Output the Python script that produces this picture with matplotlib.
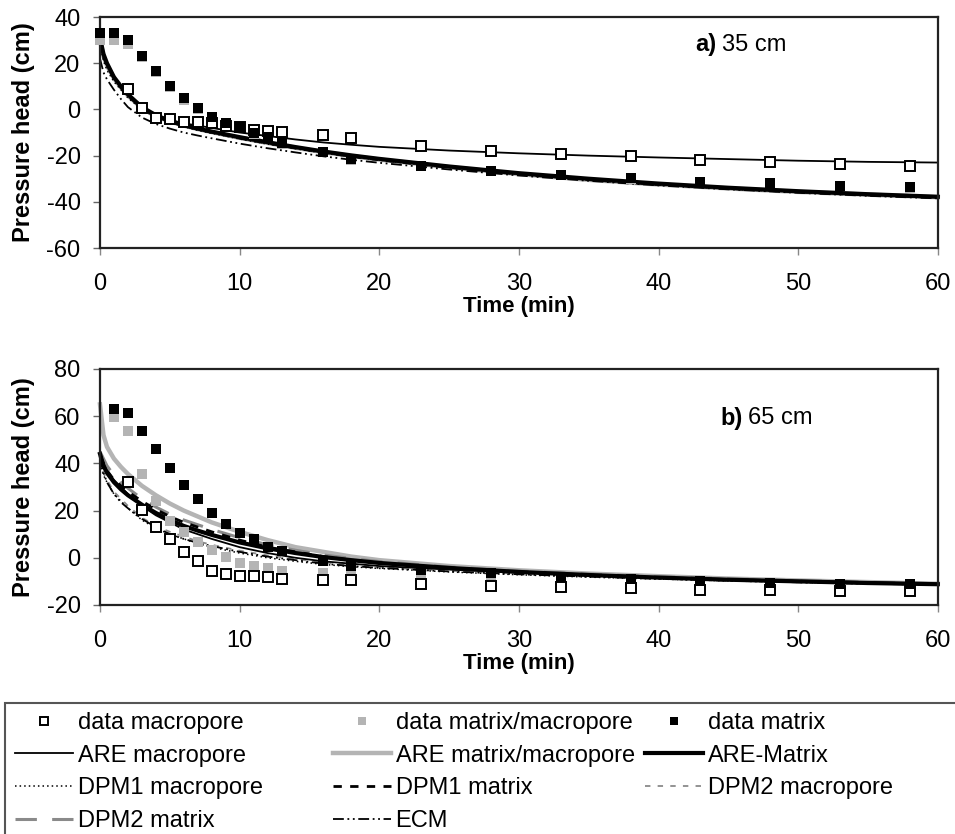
import numpy as np
import matplotlib
matplotlib.use("Agg")
import matplotlib.pyplot as plt
from matplotlib.lines import Line2D
from matplotlib.patches import Rectangle

plt.rcParams['font.family'] = ['Liberation Sans', 'DejaVu Sans']
plt.rcParams['axes.unicode_minus'] = False

# ---------------- data ----------------
t_line = [0, 0.25, 0.5, 1, 1.5, 2, 3, 4, 5, 6, 7, 8, 10, 12, 14, 16, 18, 20,
          25, 30, 35, 40, 45, 50, 55, 60]

t_data = [0, 1, 2, 3, 4, 5, 6, 7, 8, 9, 10, 11, 12, 13, 16, 18, 23, 28, 33, 38, 43, 48, 53, 58]
t_macro = [2, 3, 4, 5, 6, 7, 8, 9, 10, 11, 12, 13, 16, 18, 23, 28, 33, 38, 43, 48, 53, 58]
t_data_b = [1, 2, 3, 4, 5, 6, 7, 8, 9, 10, 11, 12, 13, 16, 18, 23, 28, 33, 38, 43, 48, 53, 58]

# panel a (35 cm) observations
a_macro = [8.7, 0.7, -3.9, -4.2, -5.3, -5.3, -6.0, -7.0, -7.5, -9.0, -9.2, -9.9,
           -11.1, -12.2, -15.7, -17.9, -19.2, -20.3, -22.0, -22.6, -23.8, -24.4]
a_mixed = [30, 30, 28.5, 22.5, 16, 9.5, 4.2, 0, -3.5, -6.3, -7.8, -10.5, -12, -15,
           -18.6, -21.8, -24.6, -26.8, -28.6, -30, -31.5, -32, -33.2, -34]
a_matrix = [33, 32.9, 30, 23.3, 16.6, 10.1, 4.8, 0.5, -3.2, -6, -7.5, -10.3, -11.8, -14.7,
            -18.3, -21.6, -24.4, -26.5, -28.3, -29.8, -31.3, -31.7, -33, -33.7]

# panel a (35 cm) simulations
a_are_macro = [30, 23, 19, 14, 10, 6.5, 1, -2.5, -4.5, -6, -7, -8, -10, -11.5, -13, -14.3,
               -15.3, -16.2, -17.8, -19, -20, -20.8, -21.5, -22.2, -22.7, -23]
a_are_mixed = [30, 23, 19, 13.5, 9.5, 6, 0.5, -3, -5.2, -7, -8.5, -9.8, -12.3, -14.5, -16.6,
               -18.5, -20.2, -21.7, -25, -28, -30.5, -32.5, -34.2, -35.7, -36.9, -38]
a_are_matrix = [31, 24, 20, 14, 10, 6.5, 1, -2.5, -5, -6.8, -8.3, -9.6, -12, -14.2, -16.3,
                -18.2, -19.9, -21.4, -24.7, -27.6, -30, -32.1, -33.9, -35.4, -36.7, -37.8]
a_dpm1_macro = [28, 21, 17, 12, 8.5, 5, 0, -3.5, -5.8, -7.5, -9, -10.3, -12.8, -15, -17,
                -18.9, -20.5, -22, -25.2, -28.1, -30.6, -32.7, -34.4, -35.9, -37.1, -38.2]
a_dpm1_matrix = [30, 23, 19, 13.5, 9.5, 6, 0.5, -3, -5.3, -7.1, -8.6, -9.9, -12.4, -14.6,
                 -16.7, -18.6, -20.3, -21.8, -25.1, -28, -30.4, -32.5, -34.2, -35.7, -37, -38.1]
a_dpm2_macro = [29, 22, 18, 13, 9, 5.5, 0.3, -3.2, -5.5, -7.3, -8.8, -10.1, -12.6, -14.8,
                -16.9, -18.8, -20.4, -21.9, -25.2, -28.1, -30.6, -32.7, -34.4, -35.9, -37.2, -38.3]
a_dpm2_matrix = [30, 23, 19, 13.5, 9.5, 6, 0.5, -3, -5.3, -7.1, -8.6, -9.9, -12.4, -14.6,
                 -16.7, -18.6, -20.3, -21.8, -25.1, -28, -30.4, -32.5, -34.2, -35.7, -37, -38]
a_ecm = [22, 16, 13, 8.5, 4.5, 1, -3.5, -6.3, -8.3, -10, -11.3, -12.5, -14.8, -16.8, -18.6,
         -20.3, -21.8, -23.1, -26, -28.6, -30.9, -32.9, -34.6, -36.1, -37.4, -38.5]

# panel b (65 cm) observations
b_macro = [32, 20.3, 12.9, 7.8, 2.6, -1.2, -5.5, -6.9, -7.6, -7.6, -8.3, -9,
           -9.4, -9.4, -11.1, -11.9, -12.2, -13, -13.6, -13.6, -14, -14]
b_mixed = [59.5, 53.9, 35.5, 24.2, 15.6, 10.8, 6.8, 3.3, 0.2, -2.1, -3.4, -4.5, -5.5,
           -6.6, -6.9, -8.5, -9.5, -10.5, -11.5, -12, -12.5, -13, -13]
b_matrix = [62.9, 61.2, 53.7, 46, 38.2, 30.8, 24.9, 19.1, 14.3, 10.7, 7.8, 4.4, 2.9,
            -1.2, -3.5, -5.2, -6.6, -8, -9.1, -9.8, -10.8, -11.2, -11.2]

# panel b (65 cm) simulations
b_are_macro = [45, 40, 37, 33, 30, 27, 22, 18, 15, 12, 10, 8, 4.5, 2, 0, -1.5, -2.5, -3.5,
               -5, -6.3, -7.3, -8.2, -9, -9.7, -10.3, -11]
b_are_mixed = [65, 52, 47, 42, 38.5, 35.5, 30.5, 26.5, 23, 20, 17.5, 15, 11, 7.5, 4.5, 2.5,
               0.5, -1, -3.5, -5.3, -6.7, -7.8, -8.8, -9.6, -10.3, -11]
b_are_matrix = [44, 39, 36, 32, 29, 26.5, 22.5, 19, 16, 13.5, 11.5, 9.7, 6.5, 4, 2, 0.3, -1,
                -2.2, -4.3, -6, -7.3, -8.4, -9.3, -10, -10.7, -11.2]
b_dpm1_macro = [40, 35, 32, 27, 24, 21, 16, 12.5, 10, 8, 6, 4.5, 2, 0, -1.5, -2.8, -3.8,
                -4.5, -6, -7.2, -8.2, -9, -9.8, -10.4, -11, -11.5]
b_dpm1_matrix = [43, 40, 37, 33, 30.5, 28, 24, 20.5, 17.5, 15, 13, 11, 7.5, 4.5, 2.5, 0.5,
                 -1, -2.2, -4.3, -6, -7.3, -8.4, -9.3, -10, -10.7, -11.3]
b_dpm2_macro = [42, 36, 33, 28, 25, 22, 17, 13.5, 11, 9, 7, 5.5, 3, 1, -0.5, -2, -3, -4,
                -5.5, -6.8, -7.8, -8.7, -9.5, -10.2, -10.8, -11.3]
b_dpm2_matrix = [45, 42, 39, 35, 32, 29.5, 25, 21.5, 18.5, 16, 14, 12, 8.5, 5.5, 3.2, 1.2,
                 -0.3, -1.6, -3.9, -5.6, -6.9, -8, -8.9, -9.7, -10.4, -11]
b_ecm = [42, 36, 32, 27, 23.5, 21, 16.5, 13, 10, 8, 6.3, 5, 2.5, 0.5, -1, -2.5, -3.5, -4.3,
         -5.8, -7, -8, -8.9, -9.7, -10.4, -11, -11.5]

x_ticks = [0, 10, 20, 30, 40, 50, 60]
a_yticks = [-60, -40, -20, 0, 20, 40]
b_yticks = [-20, 0, 20, 40, 60, 80]

labels = ["data macropore", "data matrix/macropore", "data matrix",
          "ARE macropore", "ARE matrix/macropore", "ARE-Matrix",
          "DPM1 macropore", "DPM1 matrix", "DPM2 macropore",
          "DPM2 matrix", "ECM"]

# ---------------- styles ----------------
GRAY = '#b4b4b4'
line_styles = [
    dict(color='black', lw=1.3, ls='-'),                       # ARE macropore
    dict(color=GRAY, lw=3.2, ls='-'),                          # ARE matrix/macropore
    dict(color='black', lw=3.0, ls='-'),                       # ARE-Matrix
    dict(color='black', lw=1.1, ls=(0, (1, 2))),               # DPM1 macropore
    dict(color='black', lw=2.0, ls=(0, (3, 3))),               # DPM1 matrix
    dict(color='#8a8a8a', lw=1.3, ls=(0, (3, 4))),             # DPM2 macropore
    dict(color='#8a8a8a', lw=2.2, ls=(0, (7, 5))),             # DPM2 matrix
    dict(color='black', lw=1.3, ls=(0, (6, 2, 1, 2, 1, 2))),   # ECM
]
mk_macro = dict(marker='s', ms=7, mfc='white', mec='black', mew=1.4, ls='none')
mk_mixed = dict(marker='s', ms=7.5, mfc=GRAY, mec=GRAY, mew=0, ls='none')
mk_matrix = dict(marker='s', ms=7.5, mfc='black', mec='black', mew=0, ls='none')

fig = plt.figure(figsize=(9.55, 8.34), dpi=100)
axa = fig.add_axes([0.1047, 0.7026, 0.8773, 0.2770])
axb = fig.add_axes([0.1047, 0.2746, 0.8773, 0.2830])

panels = [
    (axa, [a_are_macro, a_are_mixed, a_are_matrix, a_dpm1_macro, a_dpm1_matrix,
           a_dpm2_macro, a_dpm2_matrix, a_ecm],
     (t_macro, a_macro), (t_data, a_mixed), (t_data, a_matrix),
     (-60, 40), a_yticks, 'a)', '35 cm', (0.711, 0.743, 0.879)),
    (axb, [b_are_macro, b_are_mixed, b_are_matrix, b_dpm1_macro, b_dpm1_matrix,
           b_dpm2_macro, b_dpm2_matrix, b_ecm],
     (t_macro, b_macro), (t_data_b, b_mixed), (t_data_b, b_matrix),
     (-20, 80), b_yticks, 'b)', '65 cm', (0.740, 0.773, 0.792)),
]

for ax, sims, dmac, dmix, dmat, ylim, yticks, tag, depth, pos in panels:
    order = [1, 6, 5, 3, 7, 4, 2, 0]
    for i in order:
        ax.plot(t_line, sims[i], zorder=2, clip_on=False, **line_styles[i])
    ax.plot(*dmix, zorder=3, clip_on=False, **mk_mixed)
    ax.plot(*dmac, zorder=4, clip_on=False, **mk_macro)
    ax.plot(*dmat, zorder=5, clip_on=False, **mk_matrix)
    ax.set_xlim(0, 60)
    ax.set_ylim(*ylim)
    ax.set_xticks(x_ticks)
    ax.set_yticks(yticks)
    ax.tick_params(axis='x', direction='out', length=5, width=1, color='#888888',
                   labelsize=17, pad=13)
    ax.tick_params(axis='y', direction='out', length=5, width=1, color='#666666',
                   labelsize=17, pad=9)
    for s in ax.spines.values():
        s.set_linewidth(1.6)
        s.set_color('#222222')
    ax.set_xlabel('Time (min)', fontsize=16, fontweight='bold', labelpad=1)
    ax.set_ylabel('Pressure head (cm)', fontsize=17, fontweight='bold', labelpad=8)
    ax.text(pos[0], pos[2], tag, transform=ax.transAxes, fontsize=17,
            fontweight='bold', va='center', ha='left')
    ax.text(pos[1], pos[2], depth, transform=ax.transAxes, fontsize=17,
            va='center', ha='left')

# ---------------- legend ----------------
handles = [
    Line2D([], [], **mk_macro),
    Line2D([], [], **mk_mixed),
    Line2D([], [], **mk_matrix),
] + [Line2D([], [], **st) for st in line_styles]

columns = [[0, 3, 6, 9], [1, 4, 7, 10], [2, 5, 8]]
col_x = [15 / 955, 333 / 955, 645 / 955]
top_y = 1 - 712 / 834
for cx, idx in zip(col_x, columns):
    fig.legend([handles[i] for i in idx], [labels[i] for i in idx],
               loc='upper left', bbox_to_anchor=(cx, top_y), frameon=False,
               fontsize=17, borderpad=0, borderaxespad=0, handlelength=2.45,
               handletextpad=0.2, labelspacing=0.45, markerscale=0.85)

fig.add_artist(Rectangle((5 / 955, -0.02), 1.0, 1 - 703 / 834 + 0.02,
                         transform=fig.transFigure, fill=False,
                         edgecolor='#555555', lw=1.5))

fig.savefig('out.png', dpi=100)
